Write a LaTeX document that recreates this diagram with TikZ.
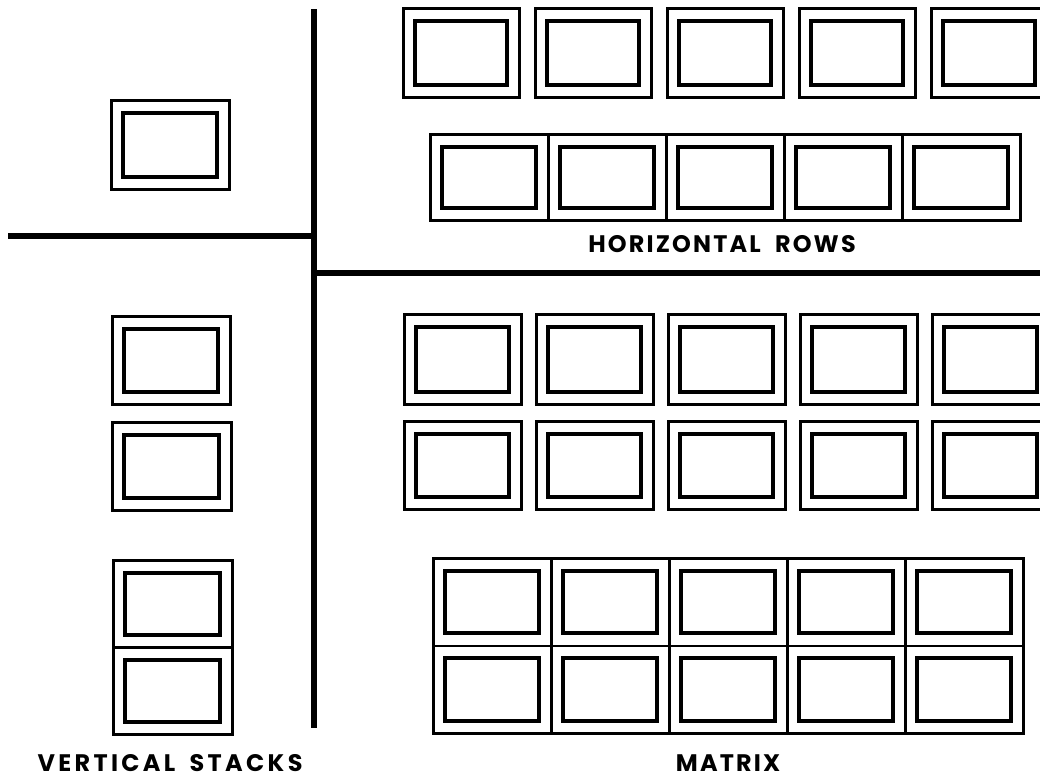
\documentclass[tikz,border=0pt]{standalone}
\usepackage{fontspec}
\usepackage{tikz}
\usetikzlibrary{positioning}
\newfontfamily\capsfont{Poppins}[LetterSpace=9]
\newfontfamily\widecapsfont{Poppins}[LetterSpace=14]
\tikzset{
  frame/.style={draw,line width=1.9pt,inner sep=0pt,anchor=north west},
  pane/.style={draw,line width=2.7pt,inner sep=0pt},
  bar/.style={line width=4.3pt},
  lbl/.style={font=\capsfont\fontsize{17}{20}\selectfont\bfseries,inner sep=0pt,anchor=base}
}

\begin{document}
\begin{tikzpicture}[x=0.025cm,y=-0.025cm]
\newcommand{\winbox}[5]{\node[frame,minimum width=#4*0.025cm,minimum height=#5*0.025cm] (#1) at (#2,#3) {};
  \node[pane,minimum width=#4*0.025cm-24*0.025cm,minimum height=#5*0.025cm-25*0.025cm] (#1i) at (#1.center) {};}
\clip (0,0) rectangle (1040,778);
\fill[white] (0,0) rectangle (1040,778);
\coordinate (vt) at (314,9);
\coordinate (vb) at (314,728);
\coordinate (ll) at (8,236);
\coordinate (lr) at (314,236);
\coordinate (rl) at (314,273);
\coordinate (rr) at (1042,273);
\draw[bar] (vt) -- (vb);
\draw[bar] (ll) -- (lr);
\draw[bar] (rl) -- (rr);
\winbox{s0}{110}{99}{118}{89}
\winbox{v0}{111}{315}{118}{88}
\winbox{v1}{111}{421}{119}{88}
\winbox{w0}{112}{559}{119}{87}
\winbox{w1}{112}{646}{119}{87}
\foreach \i in {0,...,4}{
  \winbox{r\i}{402+132*\i}{7}{116}{89}
  \winbox{h\i}{429+118*\i}{133}{118}{86}
  \winbox{a\i}{403+132*\i}{313}{117}{90}
  \winbox{b\i}{403+132*\i}{420}{117}{88}
  \winbox{m\i}{432+118*\i}{557}{118}{87.5}
  \winbox{n\i}{432+118*\i}{644.5}{118}{87.5}
}
\node[lbl] (hr) at (722,252) {HORIZONTAL\hspace{0.6em}ROWS};
\node[lbl,font=\widecapsfont\fontsize{17}{20}\selectfont\bfseries] (vs) at (170,771) {VERTICAL\hspace{0.6em}STACKS};
\node[lbl] (mx) at (728,771) {MATRIX};
\end{tikzpicture}
\end{document}
